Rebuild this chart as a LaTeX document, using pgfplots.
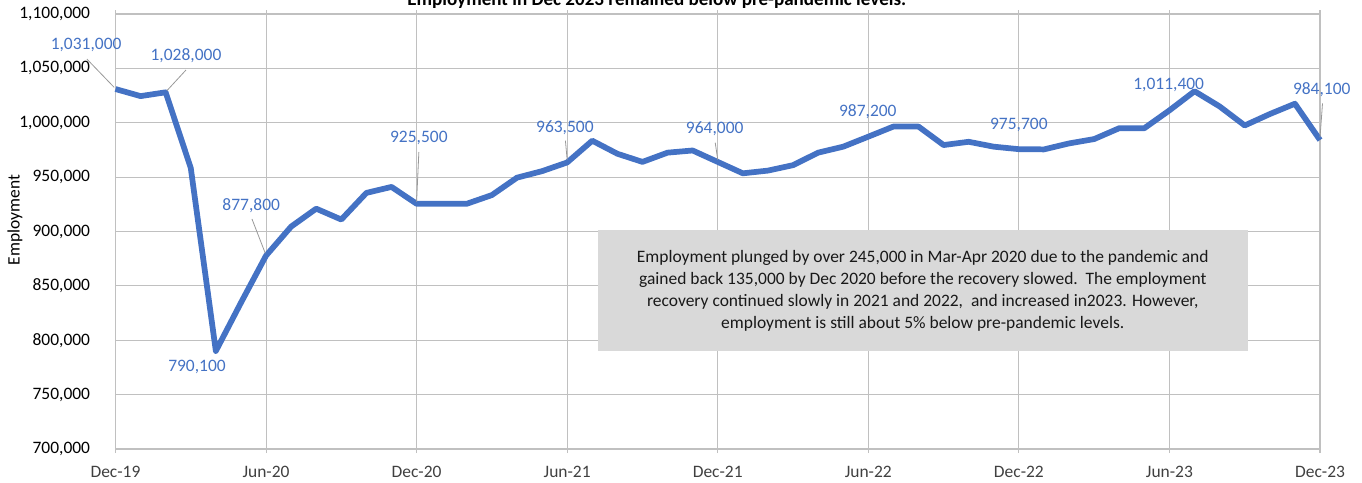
\documentclass[border=0pt]{standalone}
\usepackage{fontspec}
\setmainfont{Carlito}
\usepackage{pgfplots}
\pgfplotsset{compat=1.18}
\definecolor{serblue}{HTML}{4472C4}
\definecolor{gridgray}{HTML}{C0C0C0}
\definecolor{boxgray}{HTML}{D9D9D9}
\begin{document}
\fontsize{13.1}{15.7}\selectfont
\begin{tikzpicture}
\begin{axis}[
  at={(0,0)}, anchor=origin,
  scale only axis, width=903.4pt, height=326.25pt,
  xmin=0, xmax=48, ymin=700000, ymax=1100000,
  xtick={0,6,...,48},
  xticklabels={Dec-19,Jun-20,Dec-20,Jun-21,Dec-21,Jun-22,Dec-22,Jun-23,Dec-23},
  ytick={700000,750000,...,1100000},
  scaled ticks=false,
  /pgf/number format/.cd, fixed, 1000 sep={,}, assume math mode=true, /pgfplots/.cd,
  grid=major,
  major grid style={draw=gridgray, line width=0.8pt},
  axis line style={draw=gridgray, line width=0.8pt},
  tick align=outside,
  major tick length=3pt,
  xtick style={draw=gridgray, line width=0.8pt},
  ytick style={draw=none},
  yticklabel style={xshift=-11.5pt, font=\fontsize{13.1}{15.7}\selectfont, text=black},
  xticklabel style={yshift=-5pt, font=\fontsize{13.1}{15.7}\selectfont, text=black!75},
  clip=false,
]
\addplot[serblue, line width=4.3pt, line join=round] coordinates {
(0,1031000) (1,1024500) (2,1028000) (3,958500) (4,790100) (5,834500)
(6,877800) (7,904500) (8,921000) (9,911000) (10,935500) (11,941000)
(12,925500) (13,925500) (14,925500) (15,933500) (16,949500) (17,955500)
(18,963500) (19,983500) (20,971500) (21,964000) (22,972500) (23,974500)
(24,964000) (25,953500) (26,956000) (27,961000) (28,972500) (29,978000)
(30,987200) (31,996500) (32,996500) (33,979500) (34,982500) (35,978000)
(36,975700) (37,975500) (38,981000) (39,985000) (40,995000) (41,995000)
(42,1011400) (43,1029000) (44,1015000) (45,997500) (46,1008000) (47,1017500)
(48,984100)
};
% leader lines
\begin{scope}[draw=black!40, line width=0.6pt]
\draw (axis cs:-1.14,1058600) -- (axis cs:-0.05,1032500);
\draw (axis cs:2.81,1048500) -- (axis cs:2.05,1029500);
\draw (axis cs:5.44,911500) -- (axis cs:5.97,880000);
\draw (axis cs:12.09,973100) -- (axis cs:12.0,927500);
\draw (axis cs:17.93,983500) -- (axis cs:18.0,966000);
\draw (axis cs:23.9,981700) -- (axis cs:24.0,966000);
\draw (axis cs:48.1,1017900) -- (axis cs:48.0,986500);
\end{scope}
% data labels
\begin{scope}[every node/.style={text=serblue, font=\fontsize{13.1}{15.7}\selectfont, inner sep=0pt}]
\node at (axis cs:-1.17,1071500) {1,031,000};
\node at (axis cs:2.81,1061400) {1,028,000};
\node at (axis cs:3.25,775400) {790,100};
\node at (axis cs:5.41,923400) {877,800};
\node at (axis cs:12.09,986000) {925,500};
\node at (axis cs:17.91,995200) {963,500};
\node at (axis cs:23.88,994300) {964,000};
\node at (axis cs:29.98,1009900) {987,200};
\node at (axis cs:36.0,997900) {975,700};
\node at (axis cs:41.97,1034700) {1,011,400};
\node at (axis cs:48.07,1030100) {984,100};
\end{scope}
% text box
\fill[boxgray] (axis cs:19.22,901400) rectangle (axis cs:45.12,790100);
\node[align=center, font=\fontsize{13.1}{16.5}\selectfont, text=black!90] at (axis cs:32.17,845750)
 {Employment plunged by over 245,000 in Mar-Apr 2020 due to the pandemic and\\
  gained back 135,000 by Dec 2020 before the recovery slowed.\ \ The employment\\
  recovery continued slowly in 2021 and 2022,\ \ and increased in2023. However,\\
  employment is still about 5\% below pre-pandemic levels.};
% title and y label
\node[anchor=base, font=\bfseries\fontsize{14.3}{17}\selectfont] at (axis description cs:0.4494,1.019)
 {Employment in Dec 2023 remained below pre-pandemic levels.};
\node[rotate=90, font=\fontsize{13.1}{15.7}\selectfont] at (axis description cs:-0.0834,0.5264) {Employment};
\end{axis}
\pgfresetboundingbox
\useasboundingbox (-86.6pt,-24.75pt) rectangle (934.9pt,336.75pt);
\end{tikzpicture}
\end{document}
